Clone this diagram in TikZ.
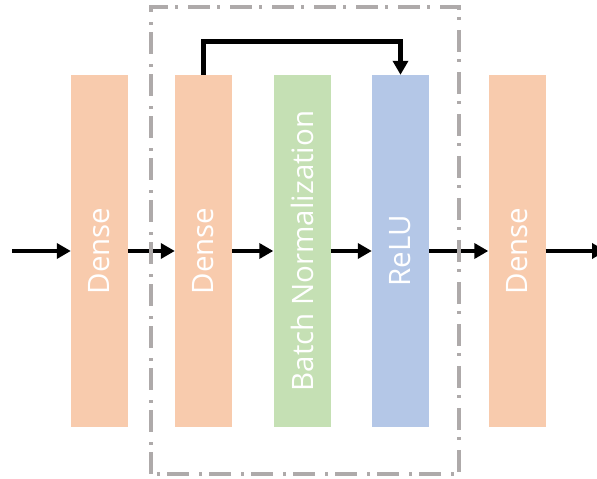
\documentclass[tikz,border=0pt]{standalone}
\usepackage{fontspec}
\setmainfont{Open Sans}
\usetikzlibrary{arrows.meta}
\definecolor{denseC}{HTML}{F8CBAD}
\definecolor{bnC}{HTML}{C5E0B4}
\definecolor{reluC}{HTML}{B4C7E7}
\definecolor{frameC}{HTML}{AEAAAA}
\begin{document}
\begin{tikzpicture}[x=1pt,y=1pt,
  layer/.style={rectangle, draw=none, minimum width=57pt, minimum height=352pt, inner sep=0pt,
    text=white, font=\fontsize{29.5}{31}\selectfont},
  conn/.style={line width=4.6pt, -{Triangle[length=14pt,width=15pt]}},
  frame/.style={draw=frameC, line width=3.2pt, dash pattern=on 22pt off 7pt on 3pt off 10pt}]
\useasboundingbox (0,0) rectangle (597,479);
\node[layer, fill=denseC] (d1) at (99.5,228) {\rotatebox{90}{Dense}};
\node[layer, fill=denseC] (d2) at (203.5,228) {\rotatebox{90}{Dense}};
\node[layer, fill=bnC] (bn) at (302,228) {\rotatebox{90}{Batch Normalization}};
\node[layer, fill=reluC] (relu) at (400.5,228) {\rotatebox{90}{ReLU}};
\node[layer, fill=denseC] (d3) at (517,228) {\rotatebox{90}{Dense}};
\coordinate (in) at (12,228);
\coordinate (out) at (606,228);
\draw[conn] (in) -- (d1);
\draw[conn] (d1) -- (d2);
\draw[conn] (d2) -- (bn);
\draw[conn] (bn) -- (relu);
\draw[conn] (relu) -- (d3);
\draw[conn] (d3) -- (out);
\draw[conn] (d2.north) -- ++(0,33) -| (relu.north);
\coordinate (fa) at (151,5);
\coordinate (fb) at (459,472);
\draw[frame] (fa) rectangle (fb);
\end{tikzpicture}
\end{document}
